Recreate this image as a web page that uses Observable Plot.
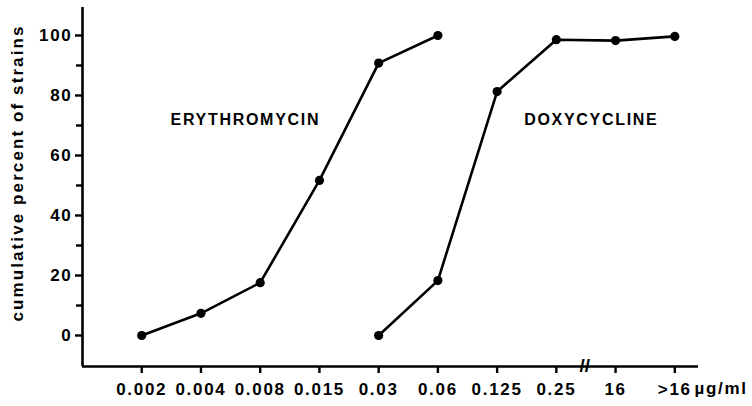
<!DOCTYPE html>
<html>
<head>
<meta charset="utf-8">
<script src="https://cdn.jsdelivr.net/npm/d3@7"></script>
<script src="https://cdn.jsdelivr.net/npm/@observablehq/plot@0.6"></script>
<style>
  body { margin: 0; background: #fff; }
</style>
</head>
<body>
<div id="chart"></div>
<script>
// Concentration steps along the x axis (µg/ml), in axis order
const concentrations = ["0.002", "0.004", "0.008", "0.015", "0.03", "0.06", "0.125", "0.25", "16", ">16"];

// Cumulative percent of strains inhibited, per antibiotic
const erythromycinConc = ["0.002", "0.004", "0.008", "0.015", "0.03", "0.06"];
const erythromycinPct  = [0, 7.4, 17.6, 51.7, 90.8, 100];
const doxycyclineConc  = ["0.03", "0.06", "0.125", "0.25", "16", ">16"];
const doxycyclinePct   = [0, 18.3, 81.3, 98.6, 98.3, 99.7];

const yMajorTicks = [0, 20, 40, 60, 80, 100];
const yMinorTicks = [10, 30, 50, 70, 90];

const yTitle = "cumulative percent of strains";
const unitLabel = "µg/ml";

// Long-format table: one row per measured point, x = position of the concentration step
const toRows = (drug, conc, pct) =>
  conc.map((c, i) => ({drug, conc: c, x: concentrations.indexOf(c), pct: pct[i]}));
const points = [
  ...toRows("ERYTHROMYCIN", erythromycinConc, erythromycinPct),
  ...toRows("DOXYCYCLINE", doxycyclineConc, doxycyclinePct)
];

// Axis extents: one step before the first concentration, a little past the last
const xDomain = [-1, 9.4];
const yDomain = [-10.33, 109.33];
const xTicks = concentrations.map((_, i) => i);

const chart = Plot.plot({
  width: 752,
  height: 406,
  marginLeft: 82,
  marginRight: 54,
  marginTop: 7,
  marginBottom: 40,
  style: {
    fontFamily: "'Liberation Sans', Arial, Helvetica, sans-serif",
    fontWeight: "bold",
    fontSize: "17px",
    letterSpacing: "1.7px",
    color: "#000",
    background: "#fff"
  },
  x: {type: "linear", domain: xDomain},
  y: {domain: yDomain},
  marks: [
    // axis frame
    Plot.ruleX([xDomain[0]], {y1: yDomain[0], y2: yDomain[1], strokeWidth: 2.6}),
    Plot.ruleY([yDomain[0]], {x1: xDomain[0], x2: xDomain[1], strokeWidth: 2.6}),
    // y axis: labelled ticks and unlabelled minor ticks
    Plot.axisY({ticks: yMajorTicks, tickSize: 7, tickPadding: 3, strokeWidth: 2.4, fontSize: 17, label: null}),
    Plot.axisY({ticks: yMinorTicks, tickSize: 6, strokeWidth: 2.4, tickFormat: () => "", label: null}),
    // x axis: one tick per concentration step
    Plot.axisX({
      ticks: xTicks,
      tickFormat: (i) => concentrations[i],
      tickSize: 7,
      tickPadding: 9,
      strokeWidth: 2.4,
      fontSize: 17,
      label: null
    }),
    // scale break between 0.25 and 16
    Plot.text(["//"], {x: () => 7.48, y: () => yDomain[0], fontSize: 19, fontWeight: "bold", dy: -1}),
    // unit after the last tick label
    Plot.text([unitLabel], {x: () => xDomain[1], y: () => yDomain[0], dy: 22, dx: -4, textAnchor: "start", fontSize: 17}),
    // y axis title
    Plot.text([yTitle], {
      frameAnchor: "left", textAnchor: "middle", rotate: -90, dx: -65, dy: -14, fontSize: 17
    }),
    // curves with filled dots
    Plot.line(points, {x: "x", y: "pct", z: "drug", stroke: "#000", strokeWidth: 2.6}),
    Plot.dot(points, {x: "x", y: "pct", r: 4.6, fill: "#000"}),
    // series names
    Plot.text(["ERYTHROMYCIN"], {x: () => 1.75, y: () => 72, fontSize: 16}),
    Plot.text(["DOXYCYCLINE"], {x: () => 7.59, y: () => 72, fontSize: 16})
  ]
});

// per-text letter spacing
d3.select(chart).selectAll("text")
  .filter(function () { return this.textContent === yTitle; })
  .style("letter-spacing", "2.1px");
d3.select(chart).selectAll("text")
  .filter(function () { return this.textContent === "//"; })
  .style("letter-spacing", "0px");

document.getElementById("chart").appendChild(chart);
</script>
</body>
</html>
